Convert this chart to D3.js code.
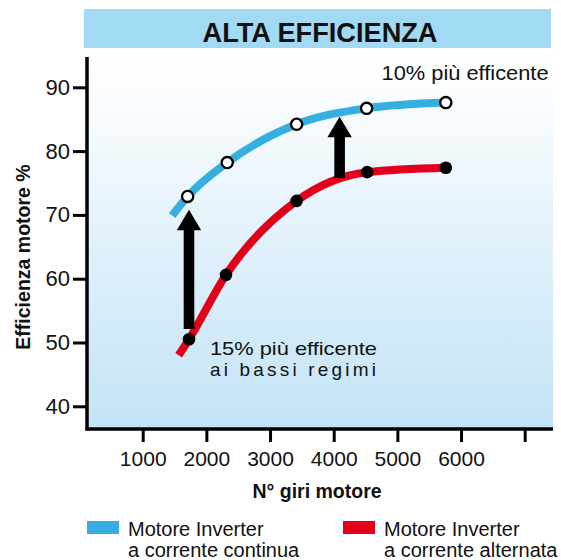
<!DOCTYPE html>
<html>
<head>
<meta charset="utf-8">
<script src="https://cdn.jsdelivr.net/npm/d3@7/dist/d3.min.js"></script>
<style>
  html, body { margin: 0; padding: 0; background: #ffffff; }
  svg { display: block; font-family: "Liberation Sans", Arial, sans-serif; }
</style>
</head>
<body>
<svg id="chart" width="561" height="560"></svg>
<script>
// ---- data ----
const title = "ALTA EFFICIENZA";
const xTitle = "N° giri motore";
const yTitle = "Efficienza motore %";
const rpmTicks = [1000, 2000, 3000, 4000, 5000, 6000, 7000];
const rpmTickLabels = ["1000", "2000", "3000", "4000", "5000", "6000", ""];
const effTicks = [40, 50, 60, 70, 80, 90];

const seriesNames = ["Motore Inverter\na corrente continua", "Motore Inverter\na corrente alternata"];
const rpmDC = [1706, 2328, 3418, 4517, 5761];
const effDC = [72.9, 78.2, 84.2, 86.7, 87.6];
const dcCurveStart = [1463, 69.9];
const rpmAC = [1727, 2308, 3418, 4526, 5761];
const effAC = [50.5, 60.6, 72.2, 76.7, 77.4];
const acCurveStart = [1565, 48.0];

const arrowRpm = [1727, 4093];
const arrowFrom = [52.1, 75.8];
const arrowTo = [70.8, 85.4];

const noteTexts = [["10% più efficente"], ["15% più efficente", "ai bassi regimi"]];
const noteRpm = [4752, 2057];
const noteEff = [91.14, 48.1];

// ---- layout ----
const svg = d3.select("#chart");
const blue = "#35afe0", red = "#e2001a";
const x = d3.scaleLinear().domain([1000, 7000]).range([142.7, 524.7]);
const y = d3.scaleLinear().domain([40, 90]).range([406.3, 87.3]);
const plotLeft = 87, plotRight = 553, plotTop = 57, plotBottom = 429;

// background gradient
const defs = svg.append("defs");
const grad = defs.append("linearGradient").attr("id", "bg").attr("x1", 0).attr("y1", 0).attr("x2", 0).attr("y2", 1);
grad.append("stop").attr("offset", 0).attr("stop-color", "#ffffff");
grad.append("stop").attr("offset", 0.12).attr("stop-color", "#f9fcfe");
grad.append("stop").attr("offset", 1).attr("stop-color", "#c2e3f6");
svg.append("rect").attr("x", plotLeft).attr("y", plotTop)
  .attr("width", plotRight - plotLeft).attr("height", plotBottom - plotTop)
  .attr("fill", "url(#bg)");

// title band
svg.append("rect").attr("x", 84).attr("y", 9).attr("width", 467).attr("height", 39).attr("fill", "#a3daf3");
svg.append("text").attr("x", 320).attr("y", 42).attr("text-anchor", "middle")
  .attr("font-size", 27).attr("font-weight", "bold").attr("fill", "#111")
  .attr("textLength", 235).attr("lengthAdjust", "spacingAndGlyphs").text(title);

// axes
const yAxis = d3.axisLeft(y).tickValues(effTicks).tickSize(14).tickPadding(3).tickFormat(d3.format("d"));
const gy = svg.append("g").attr("transform", `translate(${plotLeft},0)`).call(yAxis);
gy.select(".domain").remove();
gy.selectAll(".tick line").attr("stroke", "#000").attr("stroke-width", 3);
gy.selectAll(".tick text").attr("font-size", 22).attr("fill", "#111")
  .attr("font-family", "'Liberation Sans', Arial, sans-serif");

const xAxis = d3.axisBottom(x).tickValues(rpmTicks).tickSize(13).tickPadding(9)
  .tickFormat((d, i) => rpmTickLabels[i]);
const gx = svg.append("g").attr("transform", `translate(0,${plotBottom})`).call(xAxis);
gx.select(".domain").remove();
gx.selectAll(".tick line").attr("stroke", "#000").attr("stroke-width", 3);
gx.selectAll(".tick text").attr("font-size", 21).attr("fill", "#111")
  .attr("font-family", "'Liberation Sans', Arial, sans-serif");

svg.append("line").attr("x1", plotLeft).attr("x2", plotLeft).attr("y1", plotTop).attr("y2", plotBottom + 1.5)
  .attr("stroke", "#000").attr("stroke-width", 3.5);
svg.append("line").attr("x1", plotLeft - 1.5).attr("x2", plotRight).attr("y1", plotBottom).attr("y2", plotBottom)
  .attr("stroke", "#000").attr("stroke-width", 3.5);

// axis titles
svg.append("text").attr("x", 317).attr("y", 498).attr("text-anchor", "middle")
  .attr("font-size", 19.5).attr("font-weight", "bold").attr("fill", "#111").text(xTitle);
svg.append("text").attr("transform", "translate(29.5,257) rotate(-90)").attr("text-anchor", "middle")
  .attr("font-size", 19.5).attr("font-weight", "bold").attr("fill", "#111").text(yTitle);

// curves
const line = d3.line().x(d => x(d[0])).y(d => y(d[1])).curve(d3.curveMonotoneX);
const dcPts = [dcCurveStart].concat(rpmDC.map((r, i) => [r, effDC[i]]));
const acPts = [acCurveStart].concat(rpmAC.map((r, i) => [r, effAC[i]]));
svg.append("path").attr("d", line(dcPts)).attr("fill", "none").attr("stroke", blue).attr("stroke-width", 8);
svg.append("path").attr("d", line(acPts)).attr("fill", "none").attr("stroke", red).attr("stroke-width", 8);

// arrows
arrowRpm.forEach((r, i) => {
  const cx = x(r), yb = y(arrowFrom[i]), yt = y(arrowTo[i]);
  const sw = 5.3, hw = 12.2, hl = 20.5;
  const p = d3.path();
  p.moveTo(cx - sw, yb); p.lineTo(cx - sw, yt + hl); p.lineTo(cx - hw, yt + hl);
  p.lineTo(cx, yt); p.lineTo(cx + hw, yt + hl); p.lineTo(cx + sw, yt + hl); p.lineTo(cx + sw, yb);
  p.closePath();
  svg.append("path").attr("d", p.toString()).attr("fill", "#000");
});

// markers
svg.selectAll(".dc").data(rpmDC).enter().append("circle")
  .attr("cx", d => x(d)).attr("cy", (d, i) => y(effDC[i])).attr("r", 5.6)
  .attr("fill", "#fff").attr("stroke", "#000").attr("stroke-width", 2.3);
svg.selectAll(".ac").data(rpmAC).enter().append("circle")
  .attr("cx", d => x(d)).attr("cy", (d, i) => y(effAC[i])).attr("r", 6.3)
  .attr("fill", "#000");

// annotations
svg.append("text").attr("x", x(noteRpm[0])).attr("y", y(noteEff[0]))
  .attr("font-size", 21).attr("fill", "#111").attr("textLength", 167).attr("lengthAdjust", "spacingAndGlyphs")
  .text(noteTexts[0][0]);
const note2 = svg.append("text").attr("font-size", 19).attr("fill", "#111");
note2.append("tspan").attr("x", x(noteRpm[1])).attr("y", y(noteEff[1]))
  .attr("textLength", 167).attr("lengthAdjust", "spacingAndGlyphs").text(noteTexts[1][0]);
note2.append("tspan").attr("x", x(noteRpm[1])).attr("y", y(noteEff[1]) + 21.5)
  .attr("textLength", 166).attr("lengthAdjust", "spacing").text(noteTexts[1][1]);

// legend
const legendX = [87, 343];
const legendColors = [blue, red];
seriesNames.forEach((name, i) => {
  svg.append("rect").attr("x", legendX[i]).attr("y", 521).attr("width", 32).attr("height", 13).attr("fill", legendColors[i]);
  const t = svg.append("text").attr("font-size", 20).attr("fill", "#111");
  name.split("\n").forEach((s, j) => {
    t.append("tspan").attr("x", legendX[i] + 41).attr("y", 535.7 + j * 21).text(s);
  });
});
</script>
</body>
</html>
